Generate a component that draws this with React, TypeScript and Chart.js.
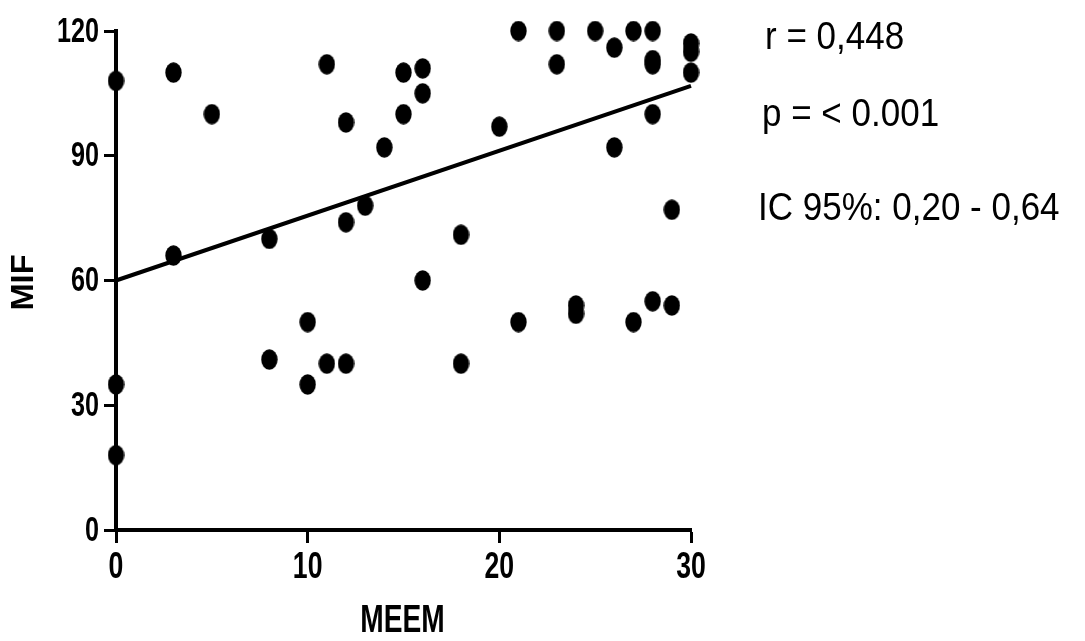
import React, { useEffect, useRef } from "react";
import { Chart, registerables } from "chart.js";

Chart.register(...registerables);

const meemValues = [
  0, 0, 0, 3, 3, 5, 8, 8, 10, 10, 11, 11, 12, 12, 12, 13, 14, 15, 15, 16, 16, 16,
  18, 18, 20, 21, 21, 23, 23, 24, 24, 25, 26, 26, 27, 27, 28, 28, 28, 28, 28, 29, 29,
  30, 30, 30,
];
const mifValues = [
  108, 35, 18, 110, 66, 100, 70, 41, 50, 35, 112, 40, 98, 74, 40, 78, 92, 110, 100, 111, 105, 60,
  71, 40, 97, 120, 50, 120, 112, 54, 52, 120, 116, 92, 120, 50, 120, 113, 112, 100, 55, 77, 54,
  117, 115, 110,
];
const fitX = [0, 30];
const fitY = [60, 106.8];
const xTicks = [0, 10, 20, 30];
const yTicks = [0, 30, 60, 90, 120];
const xTitle = "MEEM";
const yTitle = "MIF";
const statLines = ["r = 0,448", "p = < 0.001", "IC 95%: 0,20 - 0,64"];

const SANS = "'Liberation Sans', Arial, sans-serif";

function makeDot(): HTMLCanvasElement {
  const c = document.createElement("canvas");
  c.width = 17;
  c.height = 21;
  const ctx = c.getContext("2d")!;
  ctx.fillStyle = "#000";
  ctx.beginPath();
  ctx.ellipse(8.5, 10.5, 8.2, 10.3, 0, 0, Math.PI * 2);
  ctx.fill();
  return c;
}

function drawScaled(
  ctx: CanvasRenderingContext2D,
  text: string,
  x: number,
  y: number,
  font: string,
  sx: number,
  sy: number,
  align: CanvasTextAlign,
  baseline: CanvasTextBaseline,
  rot = 0
) {
  ctx.save();
  ctx.translate(x, y);
  if (rot) ctx.rotate(rot);
  ctx.scale(sx, sy);
  ctx.font = font;
  ctx.textAlign = align;
  ctx.textBaseline = baseline;
  ctx.fillStyle = "#000";
  ctx.fillText(text, 0, 0);
  ctx.restore();
}

export default function App() {
  const ref = useRef<HTMLCanvasElement | null>(null);
  useEffect(() => {
    document.body.style.margin = "0";
    const canvas = ref.current!;
    const dot = makeDot();
    const textPlugin = {
      id: "texts",
      afterDraw(chart: any) {
        const ctx = chart.ctx as CanvasRenderingContext2D;
        const xs = chart.scales.x;
        const ys = chart.scales.y;
        const area = chart.chartArea;
        yTicks.forEach((v) => {
          drawScaled(ctx, String(v), 99, ys.getPixelForValue(v) + 1, `bold 35px ${SANS}`, 0.72, 1, "right", "middle");
        });
        xTicks.forEach((v) => {
          drawScaled(ctx, String(v), xs.getPixelForValue(v), 568, `bold 37px ${SANS}`, 0.72, 1, "center", "middle");
        });
        drawScaled(ctx, xTitle, (area.left + area.right) / 2 - 1, 622, `bold 38px ${SANS}`, 0.74, 1, "center", "middle");
        drawScaled(ctx, yTitle, 24, (area.top + area.bottom) / 2 + 2, `bold 31px ${SANS}`, 1.05, 1, "center", "middle", -Math.PI / 2);
        const sxPos = [765, 762, 758];
        const syPos = [49, 126, 220];
        statLines.forEach((t, i) => {
          drawScaled(ctx, t, sxPos[i], syPos[i], `35px ${SANS}`, 1, 1.12, "left", "alphabetic");
        });
      },
    };
    const chart = new Chart(canvas, {
      type: "scatter",
      data: {
        datasets: [
          {
            type: "scatter",
            data: meemValues.map((x, i) => ({ x, y: mifValues[i] })),
            pointStyle: dot as any,
            pointRadius: 8,
            backgroundColor: "#000",
            borderColor: "#000",
            clip: false,
            order: 1,
          } as any,
          {
            type: "line",
            data: fitX.map((x, i) => ({ x, y: fitY[i] })),
            borderColor: "#000",
            borderWidth: 4,
            pointRadius: 0,
            fill: false,
            clip: false,
            order: 2,
          } as any,
        ],
      },
      options: {
        responsive: false,
        animation: false,
        events: [],
        layout: { padding: { top: 31, right: 394, left: 0, bottom: 0 } },
        plugins: { legend: { display: false }, tooltip: { enabled: false } },
        scales: {
          x: {
            type: "linear",
            min: 0,
            max: 30,
            afterBuildTicks: (s: any) => {
              s.ticks = xTicks.map((v) => ({ value: v }));
            },
            afterFit: (s: any) => {
              s.height = 111;
            },
            border: { display: true, color: "#000", width: 4 },
            grid: {
              drawOnChartArea: false,
              drawTicks: true,
              tickLength: 13,
              tickWidth: 3,
              tickColor: "#000",
            },
            ticks: { display: false },
          },
          y: {
            type: "linear",
            min: 0,
            max: 120,
            afterBuildTicks: (s: any) => {
              s.ticks = yTicks.map((v) => ({ value: v }));
            },
            afterFit: (s: any) => {
              s.width = 116;
            },
            border: { display: true, color: "#000", width: 4 },
            grid: {
              drawOnChartArea: false,
              drawTicks: true,
              tickLength: 12,
              tickWidth: 3,
              tickColor: "#000",
            },
            ticks: { display: false },
          },
        },
      },
      plugins: [textPlugin],
    } as any);
    return () => chart.destroy();
  }, []);
  return <canvas ref={ref} width={1085} height={641} style={{ display: "block" }} />;
}
